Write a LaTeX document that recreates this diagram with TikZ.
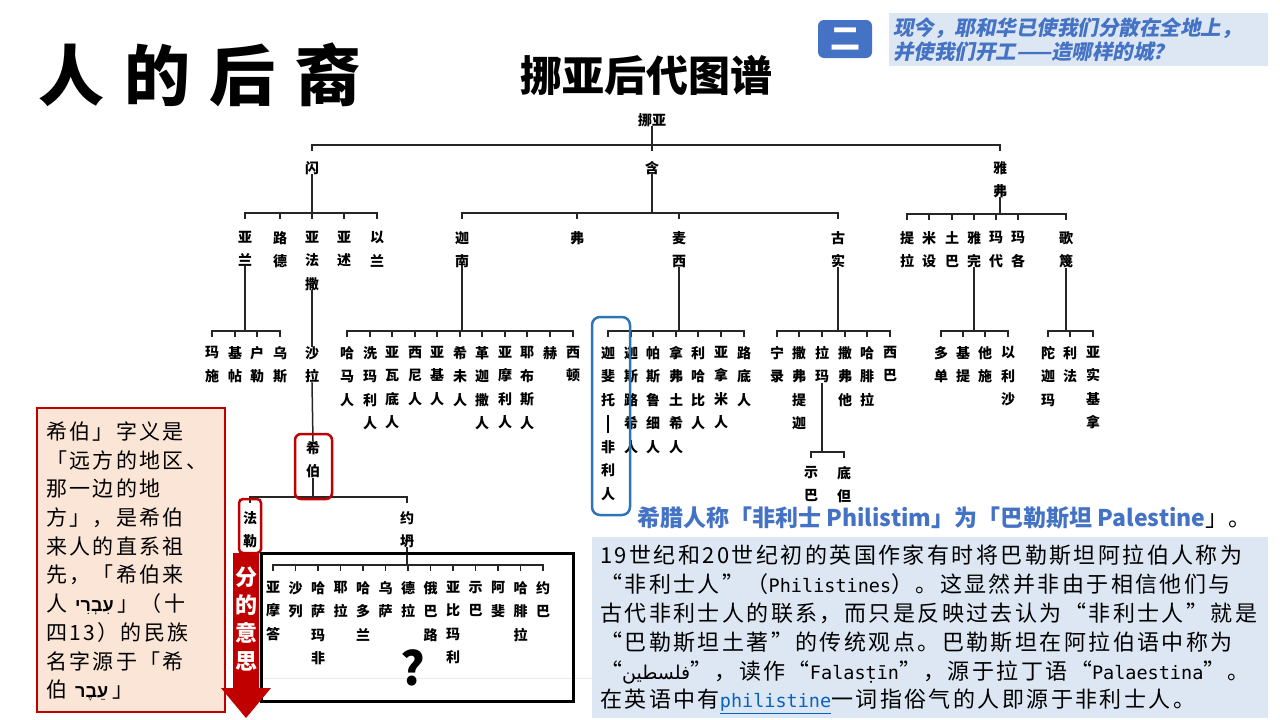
\documentclass[tikz,border=0pt]{standalone}
\usepackage{fontspec}
\TeXXeTstate=1
\newfontfamily\cjk{Noto Sans CJK SC}
\newfontfamily\cjksp{Noto Sans CJK SC}[LetterSpace=11]
\newfontfamily\cjkhead{Noto Sans CJK SC}[LetterSpace=30]
\newfontfamily\cjkit{Noto Sans CJK SC}[FakeSlant=0.2]
\newfontfamily\latfont{DejaVu Sans Mono}
\newfontfamily\hebfont[Script=Hebrew]{Liberation Sans}
\newfontfamily\arabicfont[Script=Arabic]{DejaVu Sans}

\definecolor{darkred}{HTML}{C00000}
\definecolor{pinkfill}{HTML}{FBE5D6}
\definecolor{accent}{HTML}{4472C4}
\definecolor{frameblue}{HTML}{2E75B6}
\definecolor{paleblue}{HTML}{DDE7F3}
\definecolor{linkblue}{HTML}{0563C1}

\newcommand{\treefont}{\cjk\bfseries\fontsize{14}{23.5}\selectfont}
\newcommand{\latn}[1]{{\latfont\fontsize{18.5}{28.8}\selectfont #1}}
\newcommand{\heb}[1]{\hspace{8pt}{\hebfont\bfseries\fontsize{18}{28.7}\selectfont\beginR #1\endR}\hspace{4pt}}
\newcommand{\arab}[1]{{\arabicfont\fontsize{19}{28.8}\selectfont\beginR #1\endR}}
% parent, bar y, first child, last child, all children
\newcommand{\kin}[5]{%
  \coordinate (#1-b) at (#1.south |- 0,#2);
  \draw[tree] (#1.south) -- (#1-b);
  \draw[tree] (#3.north |- #1-b) -- (#4.north |- #1-b);
  \foreach \kid in {#5} {\draw[tree] (\kid.north |- #1-b) -- ++(0,5);}
}

\tikzset{
  nm/.style={font=\treefont, text=black, align=center, inner sep=0pt, anchor=north},
  tree/.style={line width=1.5pt, black!85, line cap=rect},
  numbox/.style={fill=accent, text=white, rounded corners=6pt, minimum width=54pt,
    minimum height=38pt, font=\cjk\bfseries\fontsize{30}{30}\selectfont},
}

\begin{document}
\begin{tikzpicture}[x=1pt,y=-1pt]
\fill[white] (0,0) rectangle (1280,720);
\useasboundingbox (0,0) rectangle (1280,720);

% headings
\node (title) at (200,75) {\cjkhead\bfseries\fontsize{66}{66}\selectfont 人的后裔};
\node (subtitle) at (646,75) {\cjk\bfseries\fontsize{42}{42}\selectfont 挪亚后代图谱};
\node[numbox] (num) at (845,39) {二};
\fill[paleblue] (889,13) rectangle (1268,66);
\node[anchor=north west, align=left, inner sep=0pt, text=accent,
  font=\cjkit\bfseries\fontsize{20.5}{24}\selectfont] (question) at (893,17)
  {现今，耶和华已使我们分散在全地上，\\并使我们开工——造哪样的城？};

% generation 1
\node[nm] (noah) at (652,113) {挪亚};
\node[nm] (shem) at (312,161) {闪};
\node[nm] (ham) at (652,161) {含};
\node[nm] (japheth) at (1000,161) {雅\\弗};

% generation 2
\node[nm] (aram) at (245,231) {亚\\兰};
\node[nm] (lud) at (280,231) {路\\德};
\node[nm] (arph) at (312,231) {亚\\法\\撒};
\node[nm] (asshur) at (344,231) {亚\\述};
\node[nm] (elam) at (377,231) {以\\兰};
\node[nm] (canaan) at (462,231) {迦\\南};
\node[nm] (phut) at (577,231) {弗};
\node[nm] (mizraim) at (679,231) {麦\\西};
\node[nm] (cush) at (838,231) {古\\实};
\node[nm] (tiras) at (907,231) {提\\拉};
\node[nm] (meshech) at (929,231) {米\\设};
\node[nm] (tubal) at (952,231) {土\\巴};
\node[nm] (javan) at (974,231) {雅\\完};
\node[nm] (madai) at (996,231) {玛\\代};
\node[nm] (magog) at (1018,231) {玛\\各};
\node[nm] (gomer) at (1066,231) {歌\\篾};

% generation 3
\node[nm] (mash) at (212,346) {玛\\施};
\node[nm] (gether) at (235,346) {基\\帖};
\node[nm] (hul) at (257,346) {户\\勒};
\node[nm] (uz) at (280,346) {乌\\斯};
\node[nm] (shelah) at (312,346) {沙\\拉};
\node[nm] (hamathite) at (347,346) {哈\\马\\人};
\node[nm] (zemarite) at (370,346) {洗\\玛\\利\\人};
\node[nm] (arvadite) at (392,346) {亚\\瓦\\底\\人};
\node[nm] (sinite) at (415,346) {西\\尼\\人};
\node[nm] (arkite) at (437,346) {亚\\基\\人};
\node[nm] (hivite) at (460,346) {希\\未\\人};
\node[nm] (girgasite) at (482,346) {革\\迦\\撒\\人};
\node[nm] (amorite) at (505,346) {亚\\摩\\利\\人};
\node[nm] (jebusite) at (527,346) {耶\\布\\斯\\人};
\node[nm] (heth) at (550,346) {赫};
\node[nm] (sidon) at (573,346) {西\\顿};
\node[nm] (caphtorim) at (608,346) {迦\\斐\\托\\\rule[-4.5pt]{1.5pt}{18pt}\\非\\利\\人};
\node[nm] (casluhim) at (631,346) {迦\\斯\\路\\希\\人};
\node[nm] (pathrusim) at (653,346) {帕\\斯\\鲁\\细\\人};
\node[nm] (naphtuhim) at (676,346) {拿\\弗\\土\\希\\人};
\node[nm] (lehabim) at (698,346) {利\\哈\\比\\人};
\node[nm] (anamim) at (721,346) {亚\\拿\\米\\人};
\node[nm] (ludim) at (744,346) {路\\底\\人};
\node[nm] (nimrod) at (777,346) {宁\\录};
\node[nm] (sabtechah) at (799,346) {撒\\弗\\提\\迦};
\node[nm] (raamah) at (822,346) {拉\\玛};
\node[nm] (sabtah) at (845,346) {撒\\弗\\他};
\node[nm] (havilah) at (867,346) {哈\\腓\\拉};
\node[nm] (seba) at (890,346) {西\\巴};
\node[nm] (dodanim) at (941,346) {多\\单};
\node[nm] (kittim) at (963,346) {基\\提};
\node[nm] (tarshish) at (985,346) {他\\施};
\node[nm] (elishah) at (1008,346) {以\\利\\沙};
\node[nm] (togarmah) at (1048,346) {陀\\迦\\玛};
\node[nm] (riphath) at (1070,346) {利\\法};
\node[nm] (ashkenaz) at (1093,346) {亚\\实\\基\\拿};

% later generations
\node[nm] (sheba) at (811,466) {示\\巴};
\node[nm] (dedan) at (844,466) {底\\但};
\node[nm] (eber) at (313,441) {希\\伯};
\node[nm] (peleg) at (250,511) {法\\勒};
\node[nm] (joktan) at (407,511) {约\\坍};
\node[nm] (almodad) at (273,581) {亚\\摩\\答};
\node[nm] (sheleph) at (295.5,581) {沙\\列};
\node[nm] (hazarmaveth) at (318,581) {哈\\萨\\玛\\非};
\node[nm] (jerah) at (340.5,581) {耶\\拉};
\node[nm] (hadoram) at (363,581) {哈\\多\\兰};
\node[nm] (uzal) at (385.5,581) {乌\\萨};
\node[nm] (diklah) at (408,581) {德\\拉};
\node[nm] (obal) at (430.5,581) {俄\\巴\\路};
\node[nm] (abimael) at (453,581) {亚\\比\\玛\\利};
\node[nm] (shebab) at (475.5,581) {示\\巴};
\node[nm] (ophir) at (498,581) {阿\\斐};
\node[nm] (havilahb) at (520.5,581) {哈\\腓\\拉};
\node[nm] (jobab) at (543,581) {约\\巴};

% brackets
\kin{noah}{145}{shem}{japheth}{shem,ham,japheth}
\kin{shem}{213}{aram}{elam}{aram,lud,arph,asshur,elam}
\kin{ham}{213}{canaan}{cush}{canaan,phut,mizraim,cush}
\kin{japheth}{214}{tiras}{gomer}{tiras,meshech,tubal,javan,madai,magog,gomer}
\kin{aram}{331}{mash}{uz}{mash,gether,hul,uz}
\kin{canaan}{331}{hamathite}{sidon}{hamathite,zemarite,arvadite,sinite,arkite,hivite,girgasite,amorite,jebusite,heth,sidon}
\kin{mizraim}{331}{caphtorim}{ludim}{caphtorim,casluhim,pathrusim,naphtuhim,lehabim,anamim,ludim}
\kin{cush}{331}{nimrod}{seba}{nimrod,sabtechah,raamah,sabtah,havilah,seba}
\kin{javan}{331}{dodanim}{elishah}{dodanim,kittim,tarshish,elishah}
\kin{gomer}{331}{togarmah}{ashkenaz}{togarmah,riphath,ashkenaz}
\kin{raamah}{452}{sheba}{dedan}{sheba,dedan}
\kin{eber}{497}{peleg}{joktan}{peleg,joktan}
\kin{joktan}{565}{almodad}{jobab}{almodad,sheleph,hazarmaveth,jerah,hadoram,uzal,diklah,obal,abimael,shebab,ophir,havilahb,jobab}
\draw[tree] (arph.south) -- (shelah.north);
\draw[tree] (shelah.south) -- (eber.north);

% highlight frames
\draw[frameblue, line width=2.5pt, rounded corners=8pt] (592,317) rectangle (630,515);
\draw[darkred, line width=2.5pt, rounded corners=6pt] (295,434) rectangle (332,499);
\draw[darkred, line width=2.5pt, rounded corners=4pt] (239,499) rectangle (261,553);
\draw[black!8, line width=1pt] (261,678) -- (592,678);
\draw[black, line width=3pt] (261,553) rectangle (573,701);
\node[font=\cjk\bfseries\fontsize{46}{46}\selectfont] (mark) at (413,668) {?};

% note on Eber
\draw[darkred, fill=pinkfill, line width=2.5pt] (37,408) rectangle (225,712);
\node[anchor=north west, align=left, inner sep=0pt,
  font=\cjksp\fontsize{21}{28.7}\selectfont] (ebernote) at (46,421.5)
  {希伯」字义是\\「远方的地区、\\那一边的地\\方」，是希伯\\来人的直系祖\\先，「希伯来\\
   人\heb{עִבְרִי}」（十\\四13）的民族\\名字源于「希\\伯\heb{עֵבֶר}」};
\fill[darkred] (233,553) -- (259,553) -- (259,688) -- (271,688) -- (246,718)
  -- (221,688) -- (233,688) -- cycle;
\node[anchor=north, align=center, inner sep=0pt, text=white,
  font=\cjk\bfseries\fontsize{22}{28}\selectfont] (meaning) at (246,567) {分\\的\\意\\思};

% Philistines
\node[anchor=west, inner sep=0pt, text=accent,
  font=\cjk\bfseries\fontsize{23}{23}\selectfont] (caption) at (637,518)
  {希腊人称「非利士 Philistim」为「巴勒斯坦 Palestine\textcolor{black}{\mdseries 」。}};
\fill[paleblue] (592,537) rectangle (1268,718);
\node[anchor=north west, align=left, inner sep=0pt,
  font=\cjksp\fontsize{22}{28.8}\selectfont] (history) at (600,545)
  {19世纪和20世纪初的英国作家有时将巴勒斯坦阿拉伯人称为\\
   “非利士人”（\latn{Philistines}）。这显然并非由于相信他们与\\
   古代非利士人的联系，而只是反映过去认为“非利士人”就是\\
   “巴勒斯坦土著”的传统观点。巴勒斯坦在阿拉伯语中称为\\
   “\arab{فلسطين}”，读作“\latn{Falasṭīn}”，源于拉丁语“\latn{Palaestina}”。\\
   在英语中有\textcolor{linkblue}{\underline{\latn{philistine}}}一词指俗气的人即源于非利士人。};
\end{tikzpicture}
\end{document}
